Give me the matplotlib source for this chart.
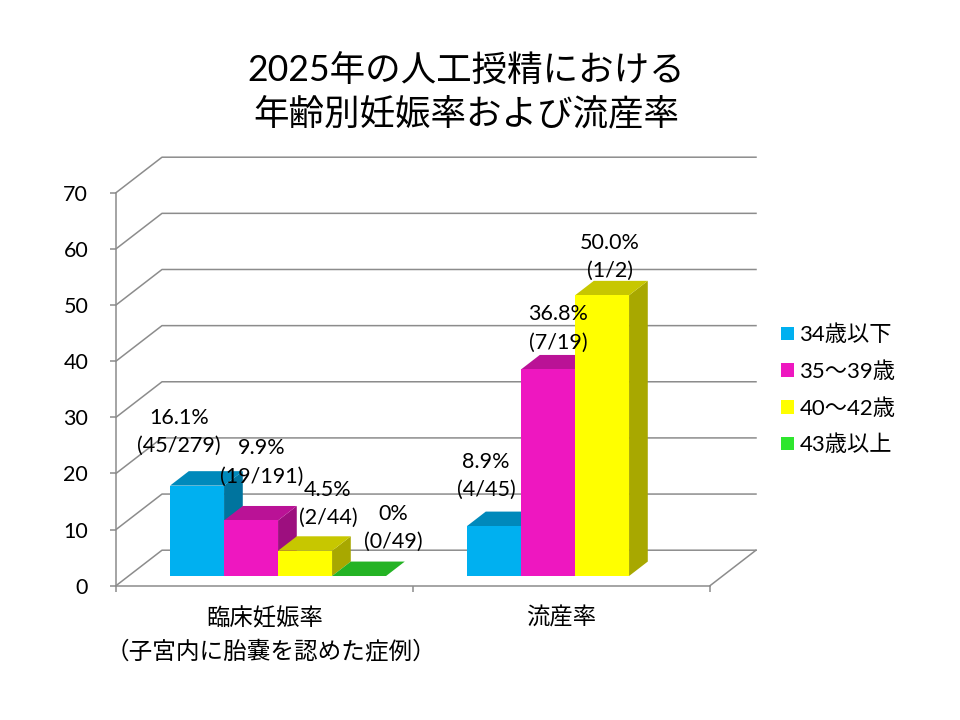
import matplotlib
matplotlib.use("Agg")
import matplotlib.pyplot as plt
from matplotlib.patches import Polygon, Patch
from matplotlib.colors import to_rgb

plt.rcParams['font.family'] = ['Lato', 'Noto Sans CJK JP', 'DejaVu Sans']

categories = ['臨床妊娠率', '流産率']
category_note = '（子宮内に胎嚢を認めた症例）'
age_groups = ['34歳以下', '35～39歳', '40～42歳', '43歳以上']
rates = [[16.1, 8.9], [9.9, 36.8], [4.5, 50.0], [0, None]]
counts = [['(45/279)', '(4/45)'], ['(19/191)', '(7/19)'], ['(2/44)', '(1/2)'], ['(0/49)', None]]
rate_texts = [['16.1%', '8.9%'], ['9.9%', '36.8%'], ['4.5%', '50.0%'], ['0%', None]]
colors = ['#00B0F0', '#EE17C0', '#FFFF00', '#2EE62E']

# label centre relative to the top of its bar, in pixels
label_shift = [[(-18, 54), (-8, 50)], [(11, 58), (10, 41)], [(23, 47), (8, 38)], [(34, 48), None]]

W, H = 960, 720
fig = plt.figure(figsize=(W / 100, H / 100), dpi=100)
ax = fig.add_axes([116 / W, 1 - 585.7 / H, 594 / W, 393 / H])
ax.set_xlim(0, 2)
ax.set_ylim(0, 70)

grid = '#8C8C8C'
DX = 46 / 297     # shift of the back wall, in category widths
DY = 35.5 * 70 / 393
bar_w = 54 / 297
d_front, d_back = 0.273, 0.68


def proj(x, y, d):
    return x + d * DX, y + d * DY


def shade(c, f):
    return tuple(v * f for v in to_rgb(c))


# walls and floor
for v in range(0, 80, 10):
    ax.plot(*zip(proj(0, v, 0), proj(0, v, 1), proj(2, v, 1)), color=grid, lw=1.1, clip_on=False, zorder=1)
ax.plot(*zip(proj(2, 0, 0), proj(2, 0, 1)), color=grid, lw=1.1, clip_on=False, zorder=1)


def draw_bar(x, v, c, z):
    x2 = x + bar_w
    top = [proj(x, v, d_front), proj(x2, v, d_front), proj(x2, v, d_back), proj(x, v, d_back)]
    side = [proj(x2, 0, d_front), proj(x2, v, d_front), proj(x2, v, d_back), proj(x2, 0, d_back)]
    front = [proj(x, 0, d_front), proj(x2, 0, d_front), proj(x2, v, d_front), proj(x, v, d_front)]
    if v > 0:
        ax.add_patch(Polygon(side, color=shade(c, 0.66), lw=0, clip_on=False, zorder=z))
        ax.add_patch(Polygon(top, color=shade(c, 0.78), lw=0, clip_on=False, zorder=z))
        ax.add_patch(Polygon(front, color=c, lw=0, clip_on=False, zorder=z))
    else:
        ax.add_patch(Polygon(top, color=shade(c, 0.78), lw=0, clip_on=False, zorder=z))


start = (1 - 4 * bar_w) / 2 + 1 / 297
for i, series in enumerate(rates):
    for j, v in enumerate(series):
        if v is None:
            continue
        x = j + start + i * bar_w
        draw_bar(x, v, colors[i], 3 + i)

for i, series in enumerate(rates):
    for j, v in enumerate(series):
        if v is None:
            continue
        x = j + start + i * bar_w
        sx, sy = label_shift[i][j]
        ax.annotate(rate_texts[i][j] + '\n' + counts[i][j], proj(x + bar_w / 2, v, d_front),
                    xytext=(sx * 0.72, sy * 0.72), textcoords='offset points',
                    ha='center', va='center', ma='center', fontsize=15.5, color='black',
                    linespacing=1.5, zorder=10, annotation_clip=False)

# axes
for s in ('top', 'right'):
    ax.spines[s].set_visible(False)
for s in ('left', 'bottom'):
    ax.spines[s].set_color(grid)
    ax.spines[s].set_linewidth(1.1)
ax.patch.set_alpha(0)
ax.set_yticks(range(0, 80, 10))
ax.tick_params(axis='y', length=4.5, width=1.1, color=grid, labelsize=15.5, pad=15.5)
ax.set_xticks([0, 1, 2])
ax.set_xticklabels([])
ax.tick_params(axis='x', which='major', length=4.5, width=1.1, color=grid)
ax.set_xticks([0.5, 1.5], minor=True)
ax.set_xticklabels(categories, minor=True, fontsize=16.8, va='top')
ax.tick_params(axis='x', which='minor', length=0, pad=15)
ax.annotate(category_note, (0.5, 0), xytext=(5, -47), textcoords='offset points',
            ha='center', va='center', fontsize=17, annotation_clip=False)

fig.text(466 / W, 1 - 92.5 / H, '2025年の人工授精における\n年齢別妊娠率および流産率', ha='center', va='center',
         ma='center', fontsize=25.6, linespacing=1.35)

handles = [Patch(color=c, lw=0) for c in colors]
fig.legend(handles, age_groups, loc='center left', bbox_to_anchor=(781 / W, 1 - 390 / H), frameon=False,
           fontsize=16, handlelength=0.58, handleheight=0.58, handletextpad=0.25, labelspacing=0.72,
           borderpad=0, borderaxespad=0)

fig.savefig('out.png', dpi=100)
